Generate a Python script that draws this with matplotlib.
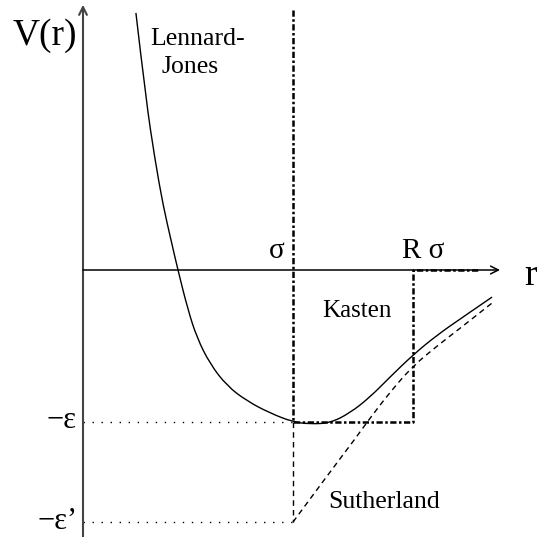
import matplotlib
matplotlib.use("Agg")
import matplotlib.pyplot as plt
from matplotlib.path import Path
from matplotlib.patches import PathPatch

# Units: r in sigma, V in epsilon
R = 1.571          # well width factor R*sigma
eps_prime = 1.658  # Sutherland depth

# Lennard-Jones curve
r_lj = [0.252, 0.300, 0.343, 0.381, 0.419, 0.452, 0.500, 0.543, 0.605, 0.686,
        0.781, 0.890, 1.000, 1.081, 1.176, 1.271, 1.367, 1.462, 1.571, 1.686,
        1.810, 1.948]
v_lj = [1.691, 1.118, 0.724, 0.428, 0.197, 0.0, -0.263, -0.447, -0.618, -0.763,
        -0.862, -0.941, -1.0, -1.013, -1.007, -0.941, -0.836, -0.704, -0.559, -0.428,
        -0.309, -0.178]

# Sutherland potential (attractive branch outside the hard core)
r_su = [1.0, 1.176, 1.295, 1.357, 1.462, 1.571, 1.686, 1.810, 1.948]
v_su = [-eps_prime, -1.329, -1.112, -0.993, -0.803, -0.632, -0.5, -0.368, -0.217]

# Square well (Kasten)
r_ka = [1.0, 1.0, R, R, 1.89]
v_ka = [1.711, -1.0, -1.0, 0.0, 0.0]


def smooth_path(xs, ys):
    # quadratic Bezier pieces through the midpoints, control at each point
    verts = [(xs[0], ys[0])]
    codes = [Path.MOVETO]
    for i in range(1, len(xs) - 1):
        mx = (xs[i] + xs[i + 1]) / 2
        my = (ys[i] + ys[i + 1]) / 2
        verts += [(xs[i], ys[i]), (mx, my)]
        codes += [Path.CURVE3, Path.CURVE3]
    verts.append((xs[-1], ys[-1]))
    codes.append(Path.LINETO)
    return Path(verts, codes)


fig = plt.figure(figsize=(5.37, 5.37), dpi=100)
ax = fig.add_axes([0, 0, 1, 1])
ax.set_xlim(-83 / 210, 454 / 210)
ax.set_ylim(-267 / 152, 270 / 152)
ax.axis("off")

serif = ["Liberation Serif", "DejaVu Serif"]

# axes with open arrow heads
ax.annotate("", xy=(0, 1.745), xytext=(0, -1.76),
            arrowprops=dict(arrowstyle="->", color="#444444", lw=1.5,
                            mutation_scale=14, shrinkA=0, shrinkB=0))
ax.annotate("", xy=(1.986, 0), xytext=(0, 0),
            arrowprops=dict(arrowstyle="->", color="black", lw=1.1,
                            mutation_scale=14, shrinkA=0, shrinkB=0))

# guide lines for -eps and -eps'
ax.plot([0, 1], [-1, -1], color="black", lw=1.0, ls=(0, (1, 5.5)))
ax.plot([0, 1], [-eps_prime, -eps_prime], color="black", lw=1.0, ls=(0, (1, 5.5)))

ax.add_patch(PathPatch(smooth_path(r_lj, v_lj), fill=False, color="black", lw=1.0))
# hard core wall of the Sutherland potential
ax.plot([1.0, 1.0], [-1.0, -eps_prime], color="black", lw=1.0, ls=(0, (4, 3)))
ax.add_patch(PathPatch(smooth_path(r_su, v_su), fill=False, color="black", lw=1.0,
                       ls=(0, (4, 3))))
ax.plot(r_ka, v_ka, color="black", lw=1.8, ls=(0, (2.5, 1, 1, 1)))

ax.text(45 / 210 - 83 / 210, 1.48, "V(r)", fontsize=27, family=serif, ha="center", va="baseline")
ax.text(2.1, -0.099, "r", fontsize=27, family=serif, ha="left", va="baseline")
ax.text(0.319, 1.48, "Lennard-", fontsize=18.5, family=serif, ha="left", va="baseline")
ax.text(0.376, 1.296, "Jones", fontsize=18.5, family=serif, ha="left", va="baseline")
ax.text(0.924, 0.079, "σ", fontsize=21, family=serif, ha="center", va="baseline")
ax.text(1.519, 0.079, "R σ", fontsize=21, family=serif, ha="left", va="baseline")
ax.text(1.138, -0.309, "Kasten", fontsize=18, family=serif, ha="left", va="baseline")
ax.text(1.167, -1.566, "Sutherland", fontsize=18.5, family=serif, ha="left", va="baseline")
ax.text(-0.033, -1.039, "−ε", fontsize=22, family=serif, ha="right", va="baseline")
ax.text(-0.024, -1.705, "−ε’", fontsize=22, family=serif, ha="right", va="baseline")

fig.savefig("out.png", dpi=100)
